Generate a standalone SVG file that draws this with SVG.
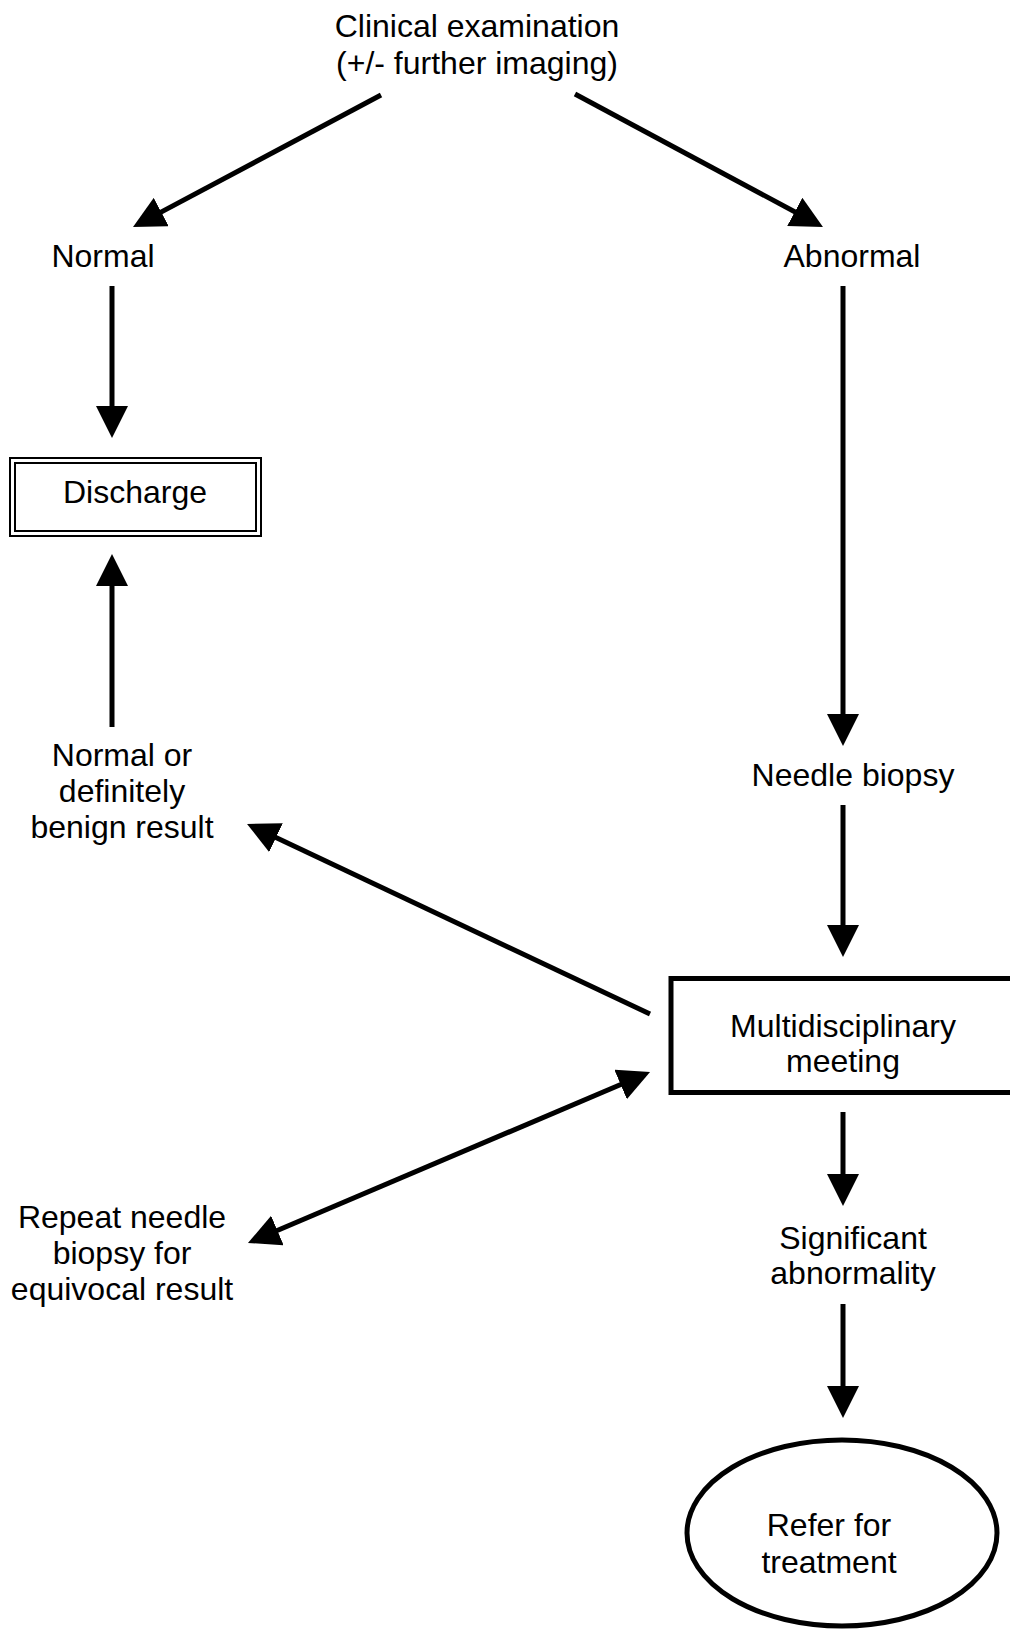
<svg xmlns="http://www.w3.org/2000/svg" width="1010" height="1629" viewBox="0 0 1010 1629">
<style>
text{font-family:"Liberation Sans",Arial,sans-serif;font-size:32px;fill:#000;text-anchor:middle}
.c{stroke:#000;stroke-width:5;fill:none}
.n{stroke:#000;fill:#fff}
</style>
<defs>
<marker id="ah" viewBox="0 0 32 32" refX="20" refY="16" markerWidth="32" markerHeight="32" markerUnits="userSpaceOnUse" orient="auto-start-reverse">
<path d="M0,0 L32,16 L0,32 Z" fill="#000"/>
</marker>
</defs>
<rect width="1010" height="1629" fill="#fff"/>
<g id="connectors">
<line class="c" x1="381" y1="95" x2="143.6" y2="221.4" marker-end="url(#ah)"/>
<line class="c" x1="575" y1="94" x2="812.4" y2="221.3" marker-end="url(#ah)"/>
<line class="c" x1="112" y1="286" x2="112" y2="426" marker-end="url(#ah)"/>
<line class="c" x1="112" y1="727" x2="112" y2="566" marker-end="url(#ah)"/>
<line class="c" x1="843" y1="286" x2="843" y2="734" marker-end="url(#ah)"/>
<line class="c" x1="843" y1="805" x2="843" y2="945" marker-end="url(#ah)"/>
<line class="c" x1="650" y1="1014" x2="257.9" y2="829.1" marker-end="url(#ah)"/>
<line class="c" x1="259" y1="1238.3" x2="639" y2="1076.7" marker-start="url(#ah)" marker-end="url(#ah)"/>
<line class="c" x1="843" y1="1112" x2="843" y2="1194" marker-end="url(#ah)"/>
<line class="c" x1="843" y1="1304" x2="843" y2="1406" marker-end="url(#ah)"/>
</g>
<g id="clinical">
<text x="477" y="37">Clinical examination</text>
<text x="477" y="74">(+/- further imaging)</text>
</g>
<g id="normal"><text x="103" y="267">Normal</text></g>
<g id="abnormal"><text x="852" y="267">Abnormal</text></g>
<g id="discharge">
<rect class="n" x="10" y="458" width="251" height="78" stroke-width="2"/>
<rect x="15" y="463" width="241" height="68" fill="none" stroke="#000" stroke-width="2"/>
<text x="135" y="503">Discharge</text>
</g>
<g id="benign">
<text x="122" y="766">Normal or</text>
<text x="122" y="802">definitely</text>
<text x="122" y="838">benign result</text>
</g>
<g id="needle"><text x="853" y="786">Needle biopsy</text></g>
<g id="mdm">
<rect class="n" x="671" y="978.5" width="400" height="114" stroke-width="5"/>
<text x="843" y="1037">Multidisciplinary</text>
<text x="843" y="1072">meeting</text>
</g>
<g id="repeat">
<text x="122" y="1228">Repeat needle</text>
<text x="122" y="1264">biopsy for</text>
<text x="122" y="1300">equivocal result</text>
</g>
<g id="significant">
<text x="853" y="1249">Significant</text>
<text x="853" y="1284">abnormality</text>
</g>
<g id="refer">
<ellipse class="n" cx="842" cy="1533" rx="155" ry="93" stroke-width="5"/>
<text x="829" y="1536">Refer for</text>
<text x="829" y="1573">treatment</text>
</g>
</svg>
